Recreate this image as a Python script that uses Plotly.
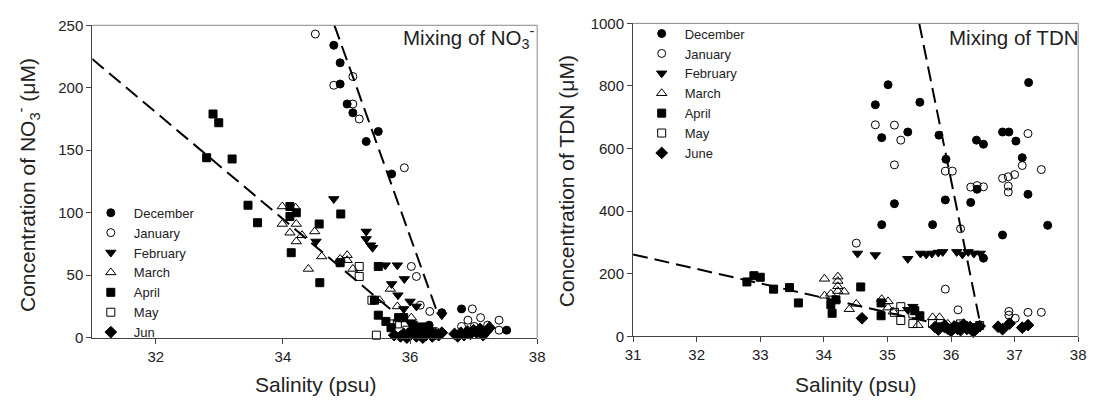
import plotly.graph_objects as go

# ---------------- data: left panel (NO3-) ----------------
months_left = ["December", "January", "February", "March", "April", "May", "Jun"]
months_right = ["December", "January", "February", "March", "April", "May", "June"]

L_dec_s = [34.80, 34.90, 34.90, 35.01, 35.10, 35.50, 35.31, 35.71, 36.81, 37.52, 36.50, 36.00, 36.10, 36.20, 36.30]
L_dec_v = [234, 220, 203, 187, 180, 165, 157, 131, 23, 6, 20, 5, 8, 3, 10]
L_jan_s = [34.51, 35.10, 34.80, 35.10, 35.20, 35.91, 36.02, 36.10, 36.16, 36.31, 36.98, 36.91, 37.11, 37.22, 37.40, 37.40, 36.81, 37.01, 36.20, 36.40]
L_jan_v = [243, 209, 202, 187, 175, 136, 57, 49, 26, 21, 23, 14, 16, 10, 14, 6, 9, 9, 8, 5]
L_feb_s = [34.80, 34.52, 35.31, 35.31, 35.38, 35.41, 35.61, 35.80, 35.91, 35.71, 35.81, 36.00, 36.10, 35.90, 36.50, 36.20, 36.30, 36.00]
L_feb_v = [111, 77, 85, 79, 74, 72, 58, 58, 47, 43, 34, 29, 25, 23, 18, 10, 6, 12]
L_mar_s = [33.99, 33.99, 34.11, 34.21, 34.21, 34.30, 34.40, 34.20, 34.50, 34.61, 34.90, 35.01, 35.01, 35.10, 35.69, 35.80, 36.02, 35.52]
L_mar_v = [105, 91, 84, 91, 77, 82, 55, 104, 85, 65, 63, 66, 62, 55, 39, 25, 16, 30]
L_apr_s = [32.90, 32.99, 32.80, 33.20, 33.45, 33.60, 34.11, 34.11, 34.21, 34.13, 34.91, 34.57, 34.58, 34.90, 35.50, 35.44, 35.50, 35.62, 35.82, 35.90, 35.70, 36.05, 36.20, 36.30]
L_apr_v = [179, 172, 144, 143, 106, 92, 105, 97, 100, 68, 99, 91, 44, 60, 57, 30, 18, 13, 16, 16, 8, 10, 6, 5]
L_may_s = [35.20, 35.20, 35.40, 35.47, 35.71, 35.80, 35.95, 36.10, 36.25, 36.40]
L_may_v = [57, 49, 30, 2, 11, 11, 6, 4, 7, 3]
L_jun_s = [35.75, 35.85, 35.90, 35.95, 36.00, 36.05, 36.10, 36.15, 36.20, 36.25, 36.30, 36.35, 36.40, 36.45, 36.50,
           36.70, 36.75, 36.80, 36.85, 36.90, 36.95, 37.00, 37.05, 37.10, 37.15, 37.20, 37.25]
L_jun_v = [2, 1, 3, 0, 2, 4, 1, 3, 0, 2, 5, 1, 3, 2, 4, 3, 1, 4, 2, 5, 3, 6, 4, 7, 2, 5, 8]

# mixing lines (endpoints)
L_line1_s = [31.0, 35.85]
L_line1_v = [223, 16]
L_line2_s = [34.81, 36.43]
L_line2_v = [250, 20]

# ---------------- data: right panel (TDN) ----------------
R_dec_s = [35.01, 34.81, 35.51, 34.91, 35.32, 35.81, 35.92, 36.40, 36.51, 36.81, 36.91, 37.02, 37.12, 37.22,
           35.11, 34.91, 35.71, 35.91, 36.31, 36.41, 36.81, 37.21, 37.52, 36.51]
R_dec_v = [804, 740, 748, 635, 653, 643, 566, 627, 614, 653, 653, 624, 571, 811,
           424, 357, 357, 436, 428, 470, 324, 454, 355, 250]
R_jan_s = [34.81, 35.11, 35.21, 35.11, 37.21, 35.91, 36.02, 36.81, 36.90, 37.00, 37.12, 37.42, 36.31, 36.41,
           36.51, 36.90, 36.90, 36.15, 34.51, 35.91, 36.11, 36.91, 37.01, 36.91, 37.21, 37.42]
R_jan_v = [676, 675, 627, 548, 648, 528, 528, 505, 510, 517, 546, 533, 477, 482,
           478, 480, 461, 344, 298, 151, 85, 80, 58, 68, 77, 77]
R_feb_s = [34.53, 34.81, 35.32, 35.52, 35.61, 35.70, 35.80, 35.87, 36.09, 36.18, 36.27, 36.36, 36.46, 35.32, 35.40, 35.90, 36.10, 36.30]
R_feb_v = [265, 260, 248, 265, 262, 265, 268, 270, 270, 262, 270, 265, 265, 85, 95, 25, 20, 30]
R_mar_s = [34.01, 34.22, 34.22, 34.22, 34.01, 34.11, 34.22, 34.32, 34.40, 34.51, 34.91, 35.01, 35.01, 35.09, 35.48, 35.71, 35.82, 35.95, 36.20]
R_mar_v = [184, 191, 177, 160, 130, 136, 145, 143, 87, 104, 119, 112, 92, 79, 36, 61, 61, 40, 35]
R_apr_s = [32.79, 32.90, 33.00, 33.21, 33.46, 33.60, 34.11, 34.13, 34.19, 34.58, 34.90, 34.90, 35.51, 35.43, 35.80, 36.00, 36.20, 36.40]
R_apr_v = [174, 194, 189, 151, 156, 107, 102, 74, 117, 158, 107, 66, 66, 82, 30, 25, 35, 28]
R_may_s = [35.21, 35.21, 35.40, 35.40, 35.11, 35.71, 35.85, 36.00, 36.15, 36.30, 36.45]
R_may_v = [95, 51, 41, 72, 77, 41, 30, 22, 40, 28, 35]
R_jun_s = [34.60, 35.75, 35.80, 35.90, 35.95, 36.00, 36.05, 36.10, 36.15, 36.20, 36.25, 36.30, 36.35, 36.40, 36.45,
           36.74, 36.81, 36.92, 37.12, 37.21]
R_jun_v = [58, 30, 22, 35, 25, 18, 32, 28, 20, 38, 24, 30, 15, 26, 33, 31, 23, 41, 28, 36]

R_line1_s = [31.0, 35.90]
R_line1_v = [262, 35]
R_line2_s = [35.50, 36.46]
R_line2_v = [1000, 40]

x_ticks_left = [32, 34, 36, 38]
x_ticks_right = [31, 32, 33, 34, 35, 36, 37, 38]

# ---------------- styling ----------------
FONT = "Arial, 'Liberation Sans', sans-serif"
symbols = ["circle", "circle-open", "triangle-down", "triangle-up-open", "square", "square-open", "diamond"]
sizes = [8, 8, 9, 9, 8, 8, 9]

left_data = [(L_dec_s, L_dec_v), (L_jan_s, L_jan_v), (L_feb_s, L_feb_v), (L_mar_s, L_mar_v),
             (L_apr_s, L_apr_v), (L_may_s, L_may_v), (L_jun_s, L_jun_v)]
right_data = [(R_dec_s, R_dec_v), (R_jan_s, R_jan_v), (R_feb_s, R_feb_v), (R_mar_s, R_mar_v),
              (R_apr_s, R_apr_v), (R_may_s, R_may_v), (R_jun_s, R_jun_v)]

fig = go.Figure()

def add_lines(xa, ya, lines):
    for s, v in lines:
        fig.add_trace(go.Scatter(x=s, y=v, mode="lines", xaxis=xa, yaxis=ya, showlegend=False,
                                 line=dict(color="black", width=2, dash="15px,7px"), hoverinfo="skip"))

add_lines("x", "y", [(L_line1_s, L_line1_v), (L_line2_s, L_line2_v)])
add_lines("x2", "y2", [(R_line1_s, R_line1_v), (R_line2_s, R_line2_v)])

for i, (s, v) in enumerate(left_data):
    fig.add_trace(go.Scatter(x=s, y=v, mode="markers", name=months_left[i], xaxis="x", yaxis="y",
                             legend="legend", cliponaxis=False,
                             marker=dict(symbol=symbols[i], size=sizes[i], color="black",
                                         line=dict(color="black", width=1))))
for i, (s, v) in enumerate(right_data):
    fig.add_trace(go.Scatter(x=s, y=v, mode="markers", name=months_right[i], xaxis="x2", yaxis="y2",
                             legend="legend2", cliponaxis=False,
                             marker=dict(symbol=symbols[i], size=sizes[i], color="black",
                                         line=dict(color="black", width=1))))

W, H = 1100, 407
def px_x(p):
    return p / W
def px_y(p):
    return (H - p) / H

axis_common = dict(showgrid=False, zeroline=False, showline=True, linecolor="#444", linewidth=1,
                   ticks="outside", ticklen=5, tickcolor="#444",
                   tickfont=dict(family=FONT, size=15, color="#222"), mirror=False)

legend_font = dict(family=FONT, size=13, color="#222")
fig.update_layout(
    width=W, height=H, margin=dict(l=0, r=0, t=0, b=0),
    paper_bgcolor="white", plot_bgcolor="white",
    xaxis=dict(domain=[px_x(85.5), px_x(537)], range=[31, 38], tickvals=x_ticks_left, anchor="y", **axis_common),
    yaxis=dict(domain=[px_y(343), px_y(17)], range=[0, 250], dtick=50, anchor="x", **axis_common),
    xaxis2=dict(domain=[px_x(634.3), px_x(1086)], range=[31, 38], tickvals=x_ticks_right, anchor="y2", **axis_common),
    yaxis2=dict(domain=[px_y(341.7), px_y(15)], range=[0, 1000], dtick=200, anchor="x2", **axis_common),
    legend=dict(x=px_x(81), y=px_y(197), xanchor="left", yanchor="top", bgcolor="rgba(0,0,0,0)",
                font=legend_font, tracegroupgap=0, itemwidth=36),
    legend2=dict(x=px_x(640), y=px_y(10), xanchor="left", yanchor="top", bgcolor="rgba(0,0,0,0)",
                 font=legend_font, tracegroupgap=0, itemwidth=36),
    showlegend=True,
)

# top/right frame lines (lighter)
for xa, ya in [("x", "y"), ("x2", "y2")]:
    fig.add_shape(type="line", xref=f"{xa} domain", yref=f"{ya} domain", x0=0, x1=1, y0=1, y1=1,
                  line=dict(color="#888", width=1))
    fig.add_shape(type="line", xref=f"{xa} domain", yref=f"{ya} domain", x0=1, x1=1, y0=0, y1=1,
                  line=dict(color="#888", width=1))

mix_font = dict(family=FONT, size=20.5, color="#222")
ann_font = dict(family=FONT, size=21, color="#222")
fig.add_annotation(text="Mixing of NO<sub>3</sub><sup>-</sup>", xref="paper", yref="paper",
                   x=px_x(536), y=px_y(30), xanchor="right", yanchor="middle", showarrow=False, font=mix_font)
fig.add_annotation(text="Mixing of TDN", xref="paper", yref="paper",
                   x=px_x(1089), y=px_y(30), xanchor="right", yanchor="middle", showarrow=False, font=mix_font)
fig.add_annotation(text="Concentration of NO<sub>3</sub><sup>-</sup> (μM)", xref="paper", yref="paper",
                   x=px_x(20), y=px_y(184), xanchor="center", yanchor="middle", textangle=-90,
                   showarrow=False, font=ann_font)
fig.add_annotation(text="Concentration of TDN (μM)", xref="paper", yref="paper",
                   x=px_x(567), y=px_y(180), xanchor="center", yanchor="middle", textangle=-90,
                   showarrow=False, font=ann_font)
fig.add_annotation(text="Salinity (psu)", xref="paper", yref="paper",
                   x=px_x(312), y=px_y(392), xanchor="center", yanchor="middle", showarrow=False, font=ann_font)
fig.add_annotation(text="Salinity (psu)", xref="paper", yref="paper",
                   x=px_x(860), y=px_y(392), xanchor="center", yanchor="middle", showarrow=False, font=ann_font)

fig.write_html("out.html")
